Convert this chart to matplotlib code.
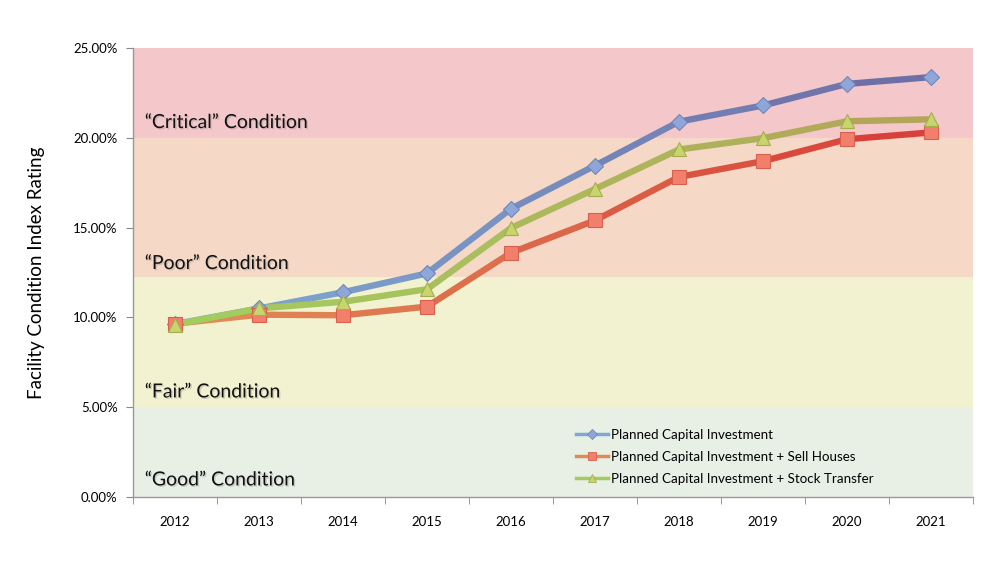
import matplotlib
matplotlib.use("Agg")
import matplotlib.pyplot as plt
import numpy as np
from matplotlib.collections import LineCollection
from matplotlib.lines import Line2D
from matplotlib.colors import to_rgb
import matplotlib.patheffects as pe

plt.rcParams['font.family'] = ['Lato', 'DejaVu Sans']

years = ["2012", "2013", "2014", "2015", "2016", "2017", "2018", "2019", "2020", "2021"]
planned = [9.63, 10.50, 11.40, 12.45, 16.05, 18.45, 20.90, 21.80, 23.00, 23.38]
sell_houses = [9.65, 10.15, 10.12, 10.60, 13.60, 15.40, 17.82, 18.70, 19.92, 20.30]
stock_transfer = [9.60, 10.50, 10.87, 11.57, 14.98, 17.15, 19.35, 19.98, 20.92, 21.03]

series_names = ["Planned Capital Investment",
                "Planned Capital Investment + Sell Houses",
                "Planned Capital Investment + Stock Transfer"]

bands = [(0, 5, "#E8F0E6", "\u201cGood\u201d Condition", 0.95),
         (5, 12.25, "#F2F2D0", "\u201cFair\u201d Condition", 5.85),
         (12.25, 20, "#F5D8C6", "\u201cPoor\u201d Condition", 13.0),
         (20, 25, "#F4C7CA", "\u201cCritical\u201d Condition", 20.85)]

styles = [
    dict(c0="#7FA8D2", c1="#6E6FA6", marker="D", mfc="#8EA6D8", mec="#6F86B8", ms=8),
    dict(c0="#E08A55", c1="#D8413A", marker="s", mfc="#F27E6C", mec="#D8604E", ms=10),
    dict(c0="#A3CC5E", c1="#B3A658", marker="^", mfc="#C8D46C", mec="#A4AE50", ms=10),
]

fig = plt.figure(figsize=(10.06, 5.72), dpi=100)
ax = fig.add_axes([133/1006, 75/572, 840/1006, 449/572])

x = np.arange(len(years))
for lo, hi, col, label, ty in bands:
    ax.axhspan(lo, hi, color=col, zorder=0, lw=0)
    ax.text(-0.36, ty, label, fontsize=14, va="center", ha="left", color="#111111",
            path_effects=[pe.withSimplePatchShadow(offset=(1, -1), shadow_rgbFace="#888888", alpha=0.35)],
            zorder=2)

handles = []
for vals, st, name in zip([planned, sell_houses, stock_transfer], styles, series_names):
    pts = np.column_stack([x, vals])
    segs = np.stack([pts[:-1], pts[1:]], axis=1)
    c0 = np.array(to_rgb(st["c0"])); c1 = np.array(to_rgb(st["c1"]))
    t = np.linspace(0, 1, len(segs))
    cols = [tuple(c0 * (1 - ti) + c1 * ti) for ti in t]
    lc = LineCollection(segs, colors=cols, linewidths=4.6, capstyle="round", joinstyle="round", zorder=3)
    ax.add_collection(lc)
    ax.plot(x, vals, linestyle="none", marker=st["marker"], ms=st["ms"], mfc=st["mfc"],
            mec=st["mec"], mew=0.8, zorder=4)
    handles.append(Line2D([0], [0], color=st["c0"], lw=2.5, marker=st["marker"],
                          ms=st["ms"] * 0.6, mfc=st["mfc"], mec=st["mec"], mew=0.6))

ax.set_xlim(-0.5, len(years) - 0.5)
ax.set_ylim(0, 25)
ax.set_yticks([0, 5, 10, 15, 20, 25])
ax.set_yticklabels([f"{v:.2f}%" for v in [0, 5, 10, 15, 20, 25]], fontsize=9.5)
ax.set_xticks(x)
ax.set_xticklabels(years, fontsize=9.5)
ax.set_xticks(np.arange(-0.5, len(years), 1), minor=True)
ax.tick_params(axis="x", which="major", length=0, pad=14)
ax.tick_params(axis="x", which="minor", length=5, color="#888888")
ax.tick_params(axis="y", length=5, color="#888888", pad=6)

for s in ["top", "right"]:
    ax.spines[s].set_visible(False)
for s in ["left", "bottom"]:
    ax.spines[s].set_color("#999999")
    ax.spines[s].set_linewidth(1.0)

ax.set_ylabel("Facility Condition Index Rating", fontsize=13.5, labelpad=20)

leg = ax.legend(handles, series_names, loc="lower left", bbox_to_anchor=(0.513, 0.0),
                frameon=False, fontsize=9.6, handlelength=2.4, handletextpad=0.2,
                labelspacing=0.75)

fig.savefig("out.png", dpi=100)
